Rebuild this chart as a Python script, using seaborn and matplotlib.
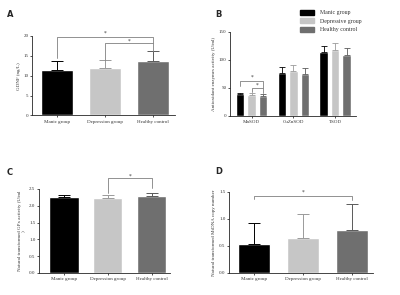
import matplotlib
matplotlib.use("Agg")
import matplotlib.pyplot as plt
import seaborn as sns
import pandas as pd
from matplotlib.patches import Patch

# dados
grupos = ["Manic group", "Depression group", "Healthy control"]
cores = ["#000000", "#c6c6c6", "#6f6f6f"]
cores_erro = ["#000000", "#9a9a9a", "#5a5a5a"]

gdnf_media = [11.5, 11.9, 13.8]
gdnf_dp = [2.1, 2.1, 2.5]

enzimas = ["MnSOD", "CuZnSOD", "TSOD"]
grupos_b = ["Manic group", "Depressive group", "Healthy control"]
sod_mania = [38, 76, 114]
sod_depressao = [37, 80, 117]
sod_controle = [35, 74, 109]
sod_dp_mania = [3, 10, 11]
sod_dp_depressao = [4, 11, 13]
sod_dp_controle = [3, 11, 11]

gpx_media = [2.27, 2.24, 2.28]
gpx_dp = [0.06, 0.08, 0.09]

mtdna_media = [0.54, 0.64, 0.80]
mtdna_dp = [0.39, 0.45, 0.48]

sns.set_style("ticks")
plt.rcParams["font.family"] = ["Liberation Serif", "DejaVu Serif"]
plt.rcParams["axes.linewidth"] = 0.6
plt.rcParams["xtick.major.width"] = 0.6
plt.rcParams["ytick.major.width"] = 0.6
plt.rcParams["xtick.major.size"] = 1.5
plt.rcParams["ytick.major.size"] = 1.5
plt.rcParams["xtick.major.pad"] = 1.5
plt.rcParams["ytick.major.pad"] = 1
fs = 3.6
cor_texto = "#333333"

fig = plt.figure(figsize=(4.0, 2.95), dpi=100)
axA = fig.add_axes([0.08, 0.6085, 0.3575, 0.2695])
axB = fig.add_axes([0.575, 0.608, 0.315, 0.285])
axC = fig.add_axes([0.0975, 0.0746, 0.3275, 0.285])
axD = fig.add_axes([0.5725, 0.0746, 0.36, 0.2746])


def barras_simples(ax, media, dp, ylim, yticks, ylabel, xlim):
    df = pd.DataFrame({"grupo": grupos, "valor": media})
    sns.barplot(data=df, x="grupo", y="valor", hue="grupo", palette=cores,
                width=0.67, errorbar=None, legend=False, ax=ax, saturation=1)
    for i, p in enumerate(list(ax.patches)):
        xc = p.get_x() + p.get_width() / 2
        ax.errorbar(xc, media[i], yerr=[[0], [dp[i]]], fmt="none",
                    ecolor=cores_erro[i], elinewidth=0.7, capsize=4.5,
                    capthick=0.7)
    ax.set_ylim(*ylim)
    ax.set_yticks(yticks)
    ax.set_xlim(*xlim)
    ax.set_xlabel("")
    ax.set_ylabel(ylabel, fontsize=fs, color=cor_texto, labelpad=2)
    ax.tick_params(labelsize=fs, colors=cor_texto)
    sns.despine(ax=ax)


def chave(ax, x1, x2, y, y1, y2, ys):
    ax.plot([x1, x1, x2, x2], [y1, y, y, y2], color="#808080", lw=0.6,
            clip_on=False)
    ax.text((x1 + x2) / 2, ys, "*", ha="center", va="center", fontsize=4,
            color=cor_texto, clip_on=False)


# A
barras_simples(axA, gdnf_media, gdnf_dp, (0, 20), [0, 5, 10, 15, 20],
               "GDNF (ng/L)", (-0.52, 2.46))
axA.set_yticklabels(["0", "5", "10", "15", "20"])
chave(axA, 0, 2, 19.8, 14.5, 18.3, 20.6)
chave(axA, 1, 2, 18.2, 14.0, 16.3, 18.6)

# B
df_b = pd.DataFrame({
    "enzima": enzimas * 3,
    "grupo": [g for g in grupos_b for _ in enzimas],
    "valor": sod_mania + sod_depressao + sod_controle,
})
sns.barplot(data=df_b, x="enzima", y="valor", hue="grupo", palette=cores,
            width=0.83, gap=0.27, errorbar=None, legend=False, ax=axB,
            saturation=1)
erros_b = [sod_dp_mania, sod_dp_depressao, sod_dp_controle]
medias_b = [sod_mania, sod_depressao, sod_controle]
for j, cont in enumerate(list(axB.containers)):
    for i, p in enumerate(cont):
        xc = p.get_x() + p.get_width() / 2
        axB.errorbar(xc, medias_b[j][i], yerr=[[0], [erros_b[j][i]]],
                     fmt="none", ecolor=cores_erro[j], elinewidth=0.6,
                     capsize=2, capthick=0.6)
axB.set_ylim(0, 150)
axB.set_yticks([0, 50, 100, 150])
axB.set_xlim(-0.52, 2.5)
axB.set_xlabel("")
axB.set_ylabel("Antioxidant enzymes activity (U/ml)", fontsize=fs,
               color=cor_texto, labelpad=2)
axB.tick_params(labelsize=fs, colors=cor_texto)
sns.despine(ax=axB)
w3 = 0.83 / 3
chave(axB, -w3, w3, 61.5, 52, 50, 68)
chave(axB, 0, w3, 50, 43, 40, 55)

handles = [Patch(facecolor=c, edgecolor=c) for c in cores]
fig.legend(handles, grupos_b, loc="upper left", bbox_to_anchor=(0.745, 0.975),
           frameon=False, fontsize=4.2, handlelength=2.3, handleheight=0.9,
           labelspacing=0.55, handletextpad=1.0, borderaxespad=0,
           labelcolor=cor_texto)

# C
barras_simples(axC, gpx_media, gpx_dp, (0, 2.5),
               [0, 0.5, 1.0, 1.5, 2.0, 2.5],
               "Natural transformed GPx activity (U/ml\n)", (-0.57, 2.42))
axC.set_yticklabels(["0.0", "0.5", "1.0", "1.5", "2.0", "2.5"])
chave(axC, 1, 2, 2.82, 2.37, 2.54, 2.89)

# D
barras_simples(axD, mtdna_media, mtdna_dp, (0, 1.5), [0, 0.5, 1.0, 1.5],
               "Natural transformed MtDNA copy number", (-0.51, 2.43))
axD.set_yticklabels(["0.0", "0.5", "1.0", "1.5"])
chave(axD, 0, 2, 1.43, 1.37, 1.35, 1.5)

# letras dos paineis
for letra, x, y in [("A", 0.025, 0.95), ("B", 0.545, 0.95),
                    ("C", 0.025, 0.415), ("D", 0.548, 0.418)]:
    fig.text(x, y, letra, fontsize=6, fontweight="bold",
             family="DejaVu Sans", ha="center", va="center")

fig.savefig("out.png", dpi=100, facecolor="white")
